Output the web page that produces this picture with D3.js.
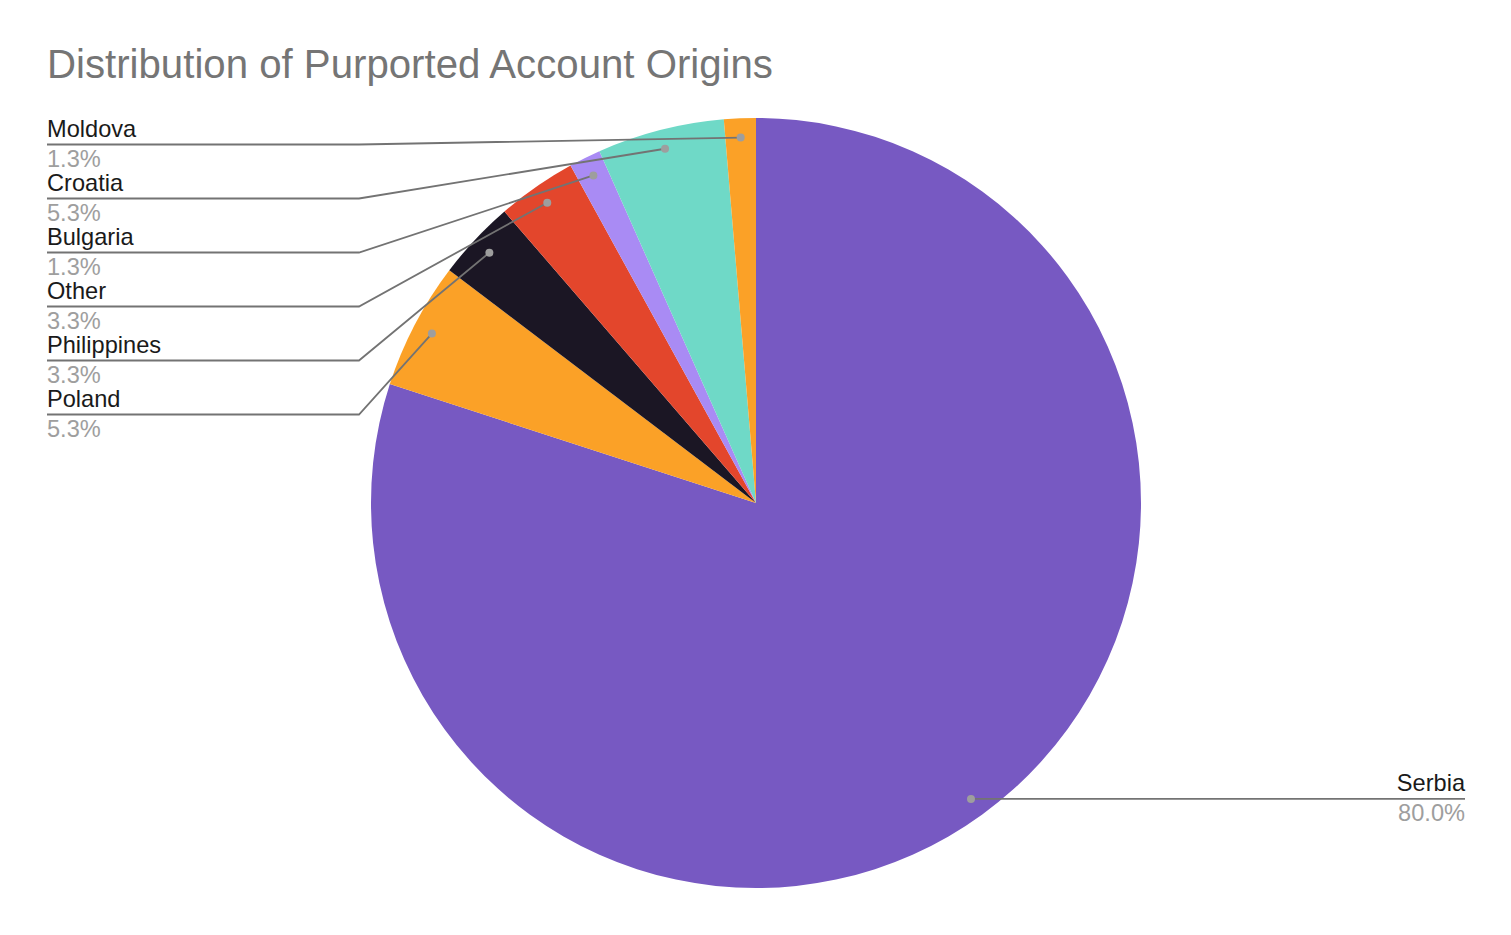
<!DOCTYPE html>
<html>
<head>
<meta charset="utf-8">
<script src="https://cdn.jsdelivr.net/npm/d3@7"></script>
<style>
  html, body { margin: 0; padding: 0; background: #ffffff; }
  svg { display: block; font-family: "Liberation Sans", Arial, Helvetica, sans-serif; }
</style>
</head>
<body>
<svg id="chart" width="1511" height="935"></svg>
<script>
// ---- data (clockwise from 12 o'clock) ----
const categories = ["Serbia", "Poland", "Philippines", "Other", "Bulgaria", "Croatia", "Moldova"];
const counts     = [120, 8, 5, 5, 2, 8, 2];
const colors     = ["#7759c2", "#fba127", "#1b1624", "#e3462c", "#a98bf4", "#6fd9c7", "#fba127"];
const title      = "Distribution of Purported Account Origins";

// ---- layout ----
const cx = 756, cy = 503, R = 385;
const svg = d3.select("#chart");

svg.append("text")
  .attr("x", 47).attr("y", 78)
  .attr("font-size", 40.2)
  .attr("fill", "#757575")
  .text(title);

const total = d3.sum(counts);
const fmt = d3.format(".1%");
const data = categories.map((c, i) => ({ name: c, value: counts[i], color: colors[i] }));

const pie = d3.pie().sort(null).value(d => d.value);
const arcs = pie(data);
const arc = d3.arc().innerRadius(0).outerRadius(R);

const g = svg.append("g").attr("transform", `translate(${cx},${cy})`);
g.selectAll("path.slice").data(arcs).join("path")
  .attr("class", "slice")
  .attr("d", arc)
  .attr("fill", d => d.data.color);

// dot positions (inside each slice, near the rim)
arcs.forEach(a => {
  const mid = (a.startAngle + a.endAngle) / 2;
  const r = R * 0.95;
  a.dx = cx + r * Math.sin(mid);
  a.dy = cy - r * Math.cos(mid);
  a.mid = mid;
});

const leftArcs = arcs.filter(a => a.mid > Math.PI).sort((a, b) => a.dy - b.dy);
const rightArcs = arcs.filter(a => a.mid <= Math.PI);

const labelX = 47, breakX = 359, rightX = 1465;
const lineColor = "#737373";
const nameSize = 23.6, pctSize = 23.6;

const lab = svg.append("g");

leftArcs.forEach((a, i) => {
  const ly = 144.5 + 54 * i;
  lab.append("polyline")
    .attr("points", `${labelX},${ly} ${breakX},${ly} ${a.dx},${a.dy}`)
    .attr("fill", "none").attr("stroke", lineColor).attr("stroke-width", 1.8);
  lab.append("text").attr("x", labelX).attr("y", ly - 7.5)
    .attr("font-size", nameSize).attr("fill", "#1a1a1a").text(a.data.name);
  lab.append("text").attr("x", labelX).attr("y", ly + 22.5)
    .attr("font-size", pctSize).attr("fill", "#9e9e9e").text(fmt(a.data.value / total));
});

rightArcs.forEach(a => {
  const ly = a.dy;
  lab.append("polyline")
    .attr("points", `${a.dx},${a.dy} ${rightX},${ly}`)
    .attr("fill", "none").attr("stroke", lineColor).attr("stroke-width", 1.8);
  lab.append("text").attr("x", rightX).attr("y", ly - 7.5)
    .attr("text-anchor", "end")
    .attr("font-size", nameSize).attr("fill", "#1a1a1a").text(a.data.name);
  lab.append("text").attr("x", rightX).attr("y", ly + 22.5)
    .attr("text-anchor", "end")
    .attr("font-size", pctSize).attr("fill", "#9e9e9e").text(fmt(a.data.value / total));
});

lab.selectAll("circle.dot").data(arcs).join("circle")
  .attr("class", "dot")
  .attr("cx", d => d.dx).attr("cy", d => d.dy)
  .attr("r", 4).attr("fill", "#9e9e9e");
</script>
</body>
</html>
